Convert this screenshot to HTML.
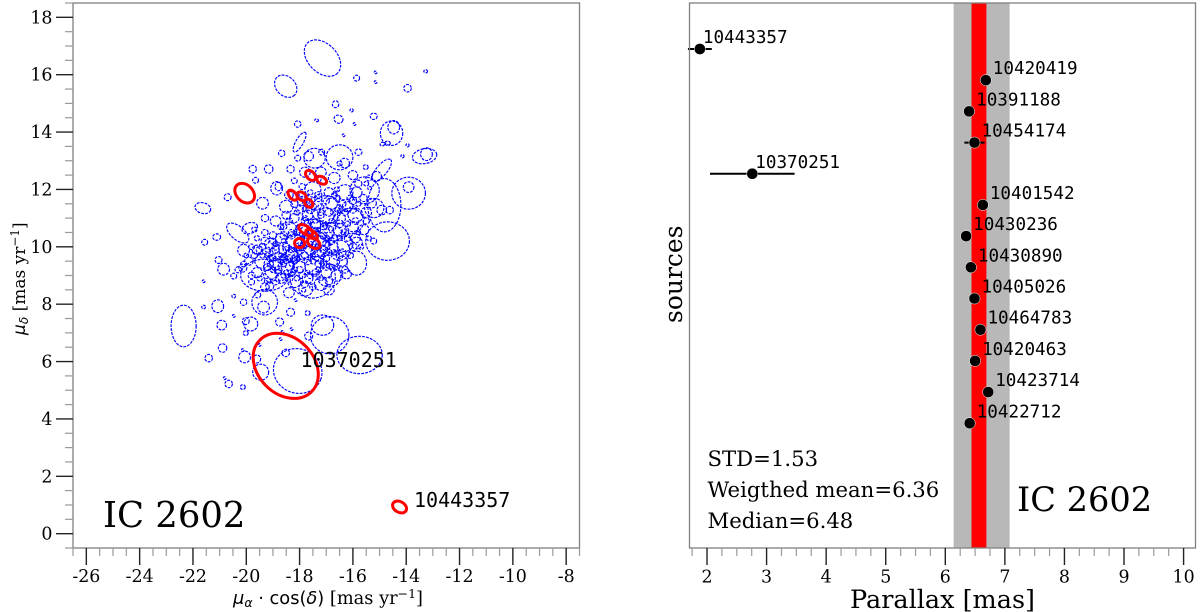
<!DOCTYPE html>
<html lang="en">
<head>
<meta charset="utf-8">
<title>IC 2602 proper motions and parallaxes</title>
<style>
html,body{margin:0;padding:0;background:#fff;width:1200px;height:612px;overflow:hidden}
svg{display:block}
.serif{font-family:"DejaVu Serif","Liberation Serif",serif;fill:#000}
.mono{font-family:"DejaVu Sans Mono","Liberation Mono",monospace;fill:#000}
.sans{font-family:"DejaVu Sans","Liberation Sans",sans-serif;fill:#000}
</style>
</head>
<body>
<svg id="chart" width="1200" height="612" viewBox="0 0 1200 612" xmlns="http://www.w3.org/2000/svg">
  <rect x="0" y="0" width="1200" height="612" fill="#ffffff"/>
  <g id="pm-panel"></g>
  <g id="plx-panel"></g>

  <text class="sans" x="233" y="604" font-size="17.8"><tspan font-style="italic">μ</tspan><tspan font-style="italic" font-size="12.5" dy="3">α</tspan><tspan dy="-3"> · cos(</tspan><tspan font-style="italic">δ</tspan><tspan>)</tspan><tspan class="serif" font-family="DejaVu Serif, Liberation Serif, serif">  [mas yr</tspan><tspan class="serif" font-family="DejaVu Serif, Liberation Serif, serif" font-size="12.5" dy="-6">−1</tspan><tspan class="serif" font-family="DejaVu Serif, Liberation Serif, serif" dy="6">]</tspan></text>
  <text class="sans" transform="translate(25,335) rotate(-90)" font-size="17"><tspan font-style="italic">μ</tspan><tspan font-style="italic" font-size="12" dy="3">δ</tspan><tspan class="serif" font-family="DejaVu Serif, Liberation Serif, serif" dy="-3">  [mas yr</tspan><tspan class="serif" font-family="DejaVu Serif, Liberation Serif, serif" font-size="12" dy="-6">−1</tspan><tspan class="serif" font-family="DejaVu Serif, Liberation Serif, serif" dy="6">]</tspan></text>
  <text class="serif" x="103" y="527" font-size="35.4">IC 2602</text>

  <text class="serif" x="850" y="608" font-size="25.5">Parallax [mas]</text>
  <text class="serif" transform="translate(682,323) rotate(-90)" font-size="25">sources</text>
  <text class="serif" x="707.5" y="466" font-size="21.2">STD=1.53</text>
  <text class="serif" x="707.5" y="497" font-size="21.2">Weigthed mean=6.36</text>
  <text class="serif" x="707.5" y="528" font-size="21.2">Median=6.48</text>
  <text class="serif" x="1017" y="511" font-size="33.6">IC 2602</text>
</svg>
<script>
// ---- proper-motion panel: isolated and large ellipses (mas/yr; tilt in degrees) ----
const memberRa = [
-17.14,-18.52,-15.86,-15.15,-15.15,-13.95,-13.27,-16.65,-16.05,-16.54,
-17.36,-15.94,-15.22,-18.07,-16.35,-18.0,-14.55,-14.47,-14.7,-14.9,
-13.95,-14.14,-13.31,-13.24,-18.67,-17.44,-17.66,-16.5,-16.31,-15.79,
-17.17,-18.07,-14.92,-15.11,-15.4,-13.91,-13.91,-15.52,-14.82,-15.2,
-19.76,-19.16,-18.34,-19.65,-18.86,-18.8,-20.7,-21.63,-19.39,-21.56,
-21.11,-20.32,-19.87,-20.1,-21.04,-20.85,-20.47,-20.13,-21.6,-19.31,
-17.51,-17.77,-17.85,-19.31,-19.35,-19.57,-19.12,-19.8,-20.47,-20.1,
-21.07,-21.6,-22.35,-20.92,-20.47,-19.83,-20.02,-20.02,-18.75,-18.34,
-18.15,-17.7,-18.64,-18.3,-18.71,-17.14,-16.87,-17.66,-15.75,-15.86,
-16.24,-16.5,-14.7,-15.22,-15.86,-20.89,-21.41,-20.06,-20.13,-19.46,
-19.61,-18.52,-18.07,-20.66,-20.81,-20.13,-19.5,-15.86,-15.3,-14.92,
-14.62,-15.37,-15.56
];
const memberDec = [
16.58,15.6,15.88,16.08,15.74,15.53,16.12,14.97,14.76,14.45,
14.41,14.28,14.55,14.28,13.89,13.65,13.96,14.17,13.61,13.58,
13.54,13.16,13.16,13.23,13.26,13.09,13.16,13.12,12.92,13.3,
13.3,13.09,12.67,12.46,12.4,11.87,12.08,12.78,11.45,11.35,
12.71,12.71,12.71,12.32,12.04,12.1,11.73,11.35,11.52,10.16,
10.34,10.48,10.65,9.88,9.54,9.22,8.98,9.26,8.8,9.01,
8.94,8.53,8.49,8.07,7.9,8.32,8.63,8.77,8.28,8.07,
7.93,7.9,7.24,7.27,7.59,7.31,7.41,6.99,7.38,7.72,
8.14,7.69,7.03,7.13,6.78,7.27,6.92,6.89,6.23,9.43,
9.05,9.88,10.2,10.2,10.13,6.47,6.12,6.16,6.4,5.63,
6.09,6.3,5.67,5.22,5.42,5.11,6.58,11.9,11.52,11.28,
11.28,12.04,11.97
];
const memberSemiA = [
.8,.47,.11,.05,.05,.14,.07,.12,.06,.17,
.07,.05,.13,.12,.05,.42,.42,.22,.1,.08,
.06,.06,.46,.22,.12,.4,.18,.5,.18,.13,
.11,.11,.52,.18,.11,.63,.2,.09,.62,.36,
.14,.16,.14,.11,.22,.12,.13,.3,.22,.11,
.15,.5,.3,.22,.13,.22,.11,.15,.05,.9,
.85,.26,.08,.48,.22,.11,.15,.11,.07,.12,
.22,.07,.47,.18,.05,.26,.13,.09,.15,.15,
.05,.09,.05,.05,.05,.42,.72,.15,.85,.37,
.18,.38,.82,.11,.22,.16,.14,.22,.05,.3,
.15,.14,.92,.14,.05,.09,.05,.2,.18,.18,
.14,.07,.55
];
const memberSemiB = [
.54,.36,.11,.05,.05,.14,.06,.13,.06,.15,
.05,.05,.12,.12,.05,.14,.46,.25,.08,.07,
.06,.06,.28,.24,.12,.37,.18,.47,.18,.12,
.11,.11,.2,.18,.11,.6,.2,.09,1.0,.36,
.14,.16,.14,.11,.25,.16,.13,.2,.22,.11,
.12,.25,.2,.22,.13,.22,.11,.15,.05,.6,
.78,.26,.08,.48,.22,.11,.15,.11,.07,.12,
.24,.07,.78,.18,.05,.26,.13,.09,.15,.15,
.05,.09,.05,.05,.05,.38,.7,.15,.7,.45,
.18,.38,.72,.11,.22,.16,.14,.22,.05,.3,
.15,.14,.83,.14,.05,.09,.05,.2,.18,.18,
.14,.07,.5
];
const memberTilt = [
-45,-45,0,0,0,0,0,0,0,-20,
-10,0,0,0,0,60,0,0,0,0,
0,0,10,0,0,0,0,0,0,0,
0,0,50,0,0,0,0,0,0,0,
0,0,0,0,0,0,0,-15,0,0,
0,-40,20,0,0,0,0,0,0,0,
0,0,0,0,0,0,0,0,0,0,
0,0,0,0,0,0,0,0,0,0,
0,0,0,0,0,0,0,0,0,0,
0,0,0,0,0,0,0,0,0,0,
0,0,-20,0,0,0,0,0,0,0,
0,0,0
];

// ---- proper-motion panel: dense core members (mas/yr) ----
const coreRa = [
-17.8,-17.2,-16.7,-16.0,-15.8,-17.5,-16.9,-16.3,-18.5,-17.9,
-17.4,-16.8,-16.2,-15.9,-15.5,-17.0,-16.5,-17.7,-18.2,-18.9,
-19.3,-18.4,-17.9,-17.4,-17.0,-16.5,-16.0,-15.6,-18.7,-18.2,
-17.7,-17.2,-16.8,-16.3,-15.9,-19.1,-19.6,-18.8,-18.3,-17.8,
-17.3,-16.8,-16.4,-19.4,-18.9,-18.5,-18.0,-17.5,-17.0,-16.6,
-19.9,-19.6,-19.1,-18.7,-18.2,-17.7,-17.2,-19.3,-18.4,-16.9,
-18.0,-17.6,-17.2,-16.7,-17.8,-17.4,-17.1,-16.8,-18.1,-17.6,
-16.3,-16.7,-18.5,-18.0,-17.5,-17.1,-19.0,-18.6,-18.2,-17.7,
-17.3,-19.2,-18.8,-18.3,-17.9,-19.0,-18.6,-17.3,-16.6,-16.0,
-15.6,-16.6,-17.9,-17.1,-18.2,-16.5,-15.5,-19.7,-19.3,-18.4,
-17.4,-18.8,-17.0,-16.1,-16.9,-18.3,-17.6,-18.6,-17.0,-17.9,
-18.1,-17.5,-16.9,-19.2,-18.7,-17.2,-16.4,-18.9,-17.4,-17.8,
-17.9,-17.6,-17.3,-17.0,-16.7,-16.4,-16.1,-15.8,-18.2,-18.5,
-17.8,-17.5,-17.2,-16.9,-16.6,-16.3,-16.0,-18.1,-18.4,-18.7,
-17.7,-17.4,-17.1,-16.8,-16.5,-16.2,-15.9,-18.0,-18.3,-18.6,
-19.0,-19.3,-19.6,-18.9,-18.6,-18.3,-18.0,-17.7,-17.4,-17.1,
-19.2,-19.5,-19.8,-18.8,-18.5,-18.2,-17.9,-17.6,-17.3,-17.0,
-19.1,-19.4,-19.7,-18.7,-18.4,-18.1,-17.8,-17.5,-17.2,-16.9,
-19.0,-18.8,-18.5,-18.2,-18.0,-17.7,-17.4,-17.1,-16.8,-16.5,
-16.2,-16.0,-15.7,-15.4,-15.5,-16.4,-16.7,-17.0,-17.3,-17.6,
-18.9,-19.2,-19.5,-19.8,-20.1,-20.0,-20.3,-18.4,-18.1,-17.8,
-17.5,-17.2,-16.9,-16.6,-16.3,-17.6,-17.9,-18.2,-17.3,-17.0,
-16.8,-16.5,-17.7,-17.4,-18.6,-18.9,-18.3,-19.1,-18.5,-18.0,
-17.5,-17.0,-16.6,-16.1,-15.8,-17.8,-17.2,-16.4,-19.4,-19.0
];
const coreDec = [
12.6,12.6,12.4,12.5,12.2,12.0,11.9,11.9,11.4,11.6,
11.5,11.5,11.4,11.1,11.2,11.1,11.0,11.1,11.0,10.9,
11.0,10.6,10.6,10.8,10.5,10.6,10.7,10.6,10.3,10.2,
10.2,10.2,10.0,10.1,10.3,10.1,9.9,9.8,9.7,9.8,
9.7,9.5,9.5,9.5,9.4,9.3,9.3,9.3,9.1,9.0,
9.5,9.1,9.0,8.9,8.8,8.9,8.7,8.6,8.4,8.5,
11.3,11.3,11.2,11.2,10.9,10.5,10.8,10.7,10.5,10.5,
10.5,10.3,10.0,10.0,10.0,9.9,9.6,9.6,9.5,9.5,
9.4,9.3,9.1,9.1,9.0,10.4,10.7,11.8,11.7,11.6,
11.7,12.0,12.1,12.3,12.3,12.9,12.2,10.6,10.5,11.8,
10.1,9.3,11.3,10.9,9.0,9.9,10.9,9.0,10.3,10.3,
9.6,9.8,10.4,9.7,9.7,9.5,10.4,10.1,10.6,11.0,
11.8,11.9,11.7,11.6,11.8,11.5,11.7,11.5,11.5,11.1,
11.3,11.4,11.4,11.2,11.3,11.2,11.3,11.2,10.9,10.7,
10.8,10.9,10.7,10.9,10.8,10.8,10.9,10.7,10.5,10.4,
10.2,10.2,10.3,10.0,10.2,10.4,10.4,10.4,10.3,10.4,
9.9,9.9,10.0,9.7,9.9,9.9,10.0,10.1,10.0,10.1,
9.6,9.7,9.7,9.5,9.6,9.7,9.7,9.7,9.8,9.8,
9.2,9.2,9.1,9.2,9.2,9.1,9.1,9.4,9.3,9.7,
10.3,10.0,10.0,10.3,10.9,9.8,9.8,9.6,9.2,9.0,
8.8,8.8,8.9,9.0,9.4,9.7,9.2,8.9,8.9,8.7,
8.6,8.9,8.8,9.3,9.2,10.7,10.0,9.6,10.6,10.7,
10.2,10.3,10.1,10.1,9.4,9.9,9.4,9.4,9.5,9.8,
9.5,9.3,9.8,9.7,10.5,11.5,11.1,11.3,10.0,9.2
];
const coreSemi = [
.2,.2,.22,.18,.14,.3,.18,.3,.25,.18,
.25,.22,.2,.28,.2,.3,.22,.2,.18,.2,
.14,.3,.25,.2,.3,.25,.2,.2,.2,.28,
.22,.2,.25,.3,.18,.22,.18,.3,.25,.3,
.22,.3,.2,.28,.22,.3,.22,.3,.2,.22,
.16,.2,.25,.2,.25,.2,.25,.16,.2,.2,
.14,.16,.12,.14,.14,.14,.12,.16,.12,.1,
.14,.12,.14,.16,.12,.14,.12,.14,.12,.14,
.12,.14,.12,.14,.12,.14,.12,.14,.12,.14,
.14,.1,.12,.11,.11,.1,.09,.1,.12,.16,
.5,.55,.55,.5,.45,.12,.1,.1,.12,.09,
.1,.09,.13,.1,.09,.11,.12,.1,.09,.1,
.12,.1,.14,.12,.1,.14,.12,.1,.14,.16,
.1,.13,.11,.15,.09,.12,.14,.1,.13,.11,
.14,.09,.12,.1,.15,.11,.13,.1,.12,.14,
.12,.15,.1,.13,.09,.14,.11,.12,.1,.13,
.1,.13,.11,.14,.12,.09,.15,.1,.12,.14,
.13,.1,.12,.09,.14,.11,.13,.1,.15,.12,
.11,.14,.1,.12,.13,.09,.14,.12,.1,.13,
.12,.15,.1,.09,.12,.14,.11,.13,.1,.12,
.14,.12,.1,.13,.11,.09,.12,.15,.1,.13,
.12,.09,.14,.11,.13,.08,.1,.12,.09,.11,
.13,.1,.08,.12,.11,.14,.09,.12,.1,.08,
.11,.13,.1,.12,.09,.1,.12,.11,.13,.1
];

// ---- proper-motion panel: highlighted sources ----
const highlightRa = [-20.06,-17.59,-17.17,-18.26,-17.92,-17.66,-17.77,-17.55,-17.47,-18.0,-18.52,-14.25];
const highlightDec = [11.87,12.49,12.32,11.8,11.76,11.52,10.58,10.44,10.13,10.13,5.85,0.93];
const highlightSemiA = [.42,.22,.2,.22,.2,.18,.3,.25,.26,.19,1.37,.28];
const highlightSemiB = [.31,.15,.13,.13,.14,.13,.15,.13,.17,.17,1.05,.2];
const highlightTilt = [-45,-45,-30,-50,-40,-45,-35,-35,-35,0,-45,-30];

const pmXTicks = [-26,-24,-22,-20,-18,-16,-14,-12,-10,-8];
const pmYTicks = [0,2,4,6,8,10,12,14,16,18];
const pmXLabels = ["-26","-24","-22","-20","-18","-16","-14","-12","-10","-8"];
const pmYLabels = ["0","2","4","6","8","10","12","14","16","18"];

// ---- parallax panel ----
const sourceNames = ["10443357","10420419","10391188","10454174","10370251","10401542","10430236","10430890","10405026","10464783","10420463","10423714","10422712"];
const sourceParallax = [1.88,6.68,6.40,6.49,2.76,6.63,6.35,6.43,6.49,6.59,6.50,6.72,6.41];
const sourceParallaxErr = [0.20,0.08,0.08,0.17,0.71,0.09,0.07,0.07,0.08,0.06,0.08,0.06,0.08];
const plxXTicks = [2,3,4,5,6,7,8,9,10];
const plxXLabels = ["2","3","4","5","6","7","8","9","10"];
const stdBandRange = [6.14,7.08];
const medianBandRange = [6.44,6.69];

const NS = 'http://www.w3.org/2000/svg';
const pmPanel = document.getElementById('pm-panel');
const plxPanel = document.getElementById('plx-panel');

const pmBox = {left:73, right:579.5, top:3, bottom:548};
const plxBox = {left:689.5, right:1195.5, top:3, bottom:548};
const pmXLim = [-26.5,-7.5], pmYLim = [-0.5,18.5], plxXLim = [1.706,10.2], plxRowLim = [-1.475,16];

function pmX(v){return pmBox.left + (v-pmXLim[0])/(pmXLim[1]-pmXLim[0])*(pmBox.right-pmBox.left);}
function pmY(v){return pmBox.bottom - (v-pmYLim[0])/(pmYLim[1]-pmYLim[0])*(pmBox.bottom-pmBox.top);}
function plxX(v){return plxBox.left + (v-plxXLim[0])/(plxXLim[1]-plxXLim[0])*(plxBox.right-plxBox.left);}
function plxRow(i){return plxBox.top + (i-plxRowLim[0])/(plxRowLim[1]-plxRowLim[0])*(plxBox.bottom-plxBox.top);}

function svgEl(tag, parent, attrs){
  const el = document.createElementNS(NS, tag);
  for (const k in attrs) el.setAttribute(k, attrs[k]);
  parent.appendChild(el);
  return el;
}
function drawEllipse(parent, ra, dec, a, b, tilt, stroke, width, dash){
  const xScale = (pmBox.right-pmBox.left)/(pmXLim[1]-pmXLim[0]);
  const cx = pmX(ra), cy = pmY(dec);
  const attrs = {cx:cx, cy:cy, rx:a*xScale, ry:b*xScale, fill:'none', stroke:stroke, 'stroke-width':width, transform:'rotate('+(-tilt)+' '+cx+' '+cy+')'};
  if (dash) attrs['stroke-dasharray'] = dash;
  return svgEl('ellipse', parent, attrs);
}

function drawFrame(parent, box){
  const frame = svgEl('rect', parent, {x:box.left, y:box.top, width:box.right-box.left, height:box.bottom-box.top, fill:'none', stroke:'#808080', 'stroke-width':1.3});
  
  
}
function tickLine(parent, x1, y1, x2, y2, major){
  const t = svgEl('line', parent, {x1:x1, y1:y1, x2:x2, y2:y2, stroke: major ? '#222222' : '#999999', 'stroke-width': major ? 1.4 : 1.2});
  
  
}

// proper-motion ellipses
const blueLayer = svgEl('g', pmPanel, {});


memberRa.forEach(function(ra, i){
  const m = drawEllipse(blueLayer, ra, memberDec[i], memberSemiA[i], memberSemiB[i], memberTilt[i], '#0000ff', 1.15, '2.8 1.2');
  
  
});
coreRa.forEach(function(ra, i){
  const c = drawEllipse(blueLayer, ra, coreDec[i], coreSemi[i], coreSemi[i]*0.95, 0, '#0000ff', 1.15, '2.8 1.2');
  
  
});
const redLayer = svgEl('g', pmPanel, {});


highlightRa.forEach(function(ra, i){
  const r = drawEllipse(redLayer, ra, highlightDec[i], highlightSemiA[i], highlightSemiB[i], highlightTilt[i], '#ff0000', 3, null);
  
  
});
const label1 = svgEl('text', pmPanel, {x:300.5, y:367, class:'mono', 'font-size':20});


label1.textContent = '10370251';
const label2 = svgEl('text', pmPanel, {x:414, y:507, class:'mono', 'font-size':20});


label2.textContent = '10443357';

drawFrame(pmPanel, pmBox);
// proper-motion minor ticks
for (let v = pmXLim[0]; v <= pmXLim[1]+1e-6; v += 0.5) {
  if (Math.abs(v/2-Math.round(v/2)) > 1e-6) tickLine(pmPanel, pmX(v), pmBox.bottom, pmX(v), pmBox.bottom+8, false);
}
for (let v = pmYLim[0]; v <= pmYLim[1]+1e-6; v += 0.5) {
  if (Math.abs(v/2-Math.round(v/2)) > 1e-6) tickLine(pmPanel, pmBox.left-8, pmY(v), pmBox.left, pmY(v), false);
}
pmXTicks.forEach(function(v, i){
  tickLine(pmPanel, pmX(v), pmBox.bottom, pmX(v), pmBox.bottom+17, true);
  const t = svgEl('text', pmPanel, {x:pmX(v), y:582, class:'serif', 'font-size':17.4, 'text-anchor':'middle'});
  
  
  t.textContent = pmXLabels[i];
});
pmYTicks.forEach(function(v, i){
  tickLine(pmPanel, pmBox.left-17, pmY(v), pmBox.left, pmY(v), true);
  const t = svgEl('text', pmPanel, {x:52.5, y:pmY(v)+6, class:'serif', 'font-size':17.4, 'text-anchor':'end'});
  
  
  t.textContent = pmYLabels[i];
});

// parallax panel bands
const grayBand = svgEl('rect', plxPanel, {x:plxX(stdBandRange[0]), y:plxBox.top, width:plxX(stdBandRange[1])-plxX(stdBandRange[0]), height:plxBox.bottom-plxBox.top, fill:'#b8b8b8'});


const redBand = svgEl('rect', plxPanel, {x:plxX(medianBandRange[0]), y:plxBox.top, width:plxX(medianBandRange[1])-plxX(medianBandRange[0]), height:plxBox.bottom-plxBox.top, fill:'#ff0000'});



// parallax points
sourceParallax.forEach(function(p, i){
  const y = plxRow(i);
  const bar = svgEl('line', plxPanel, {x1:plxX(p-sourceParallaxErr[i]), y1:y, x2:plxX(p+sourceParallaxErr[i]), y2:y, stroke:'#000000', 'stroke-width':2});
  
  
  const dot = svgEl('circle', plxPanel, {cx:plxX(p), cy:y, r:5.6, fill:'#000000', stroke:'#ffffff', 'stroke-width':0.5});
  
  
  const lab = svgEl('text', plxPanel, {x:plxX(p)+(p<3?3:7), y:y-6, class:'mono', 'font-size':17.6});
  
  
  lab.textContent = sourceNames[i];
});

drawFrame(plxPanel, plxBox);
for (let v = 1.75; v <= plxXLim[1]+1e-6; v += 0.25) {
  if (Math.abs(v-Math.round(v)) > 1e-6) tickLine(plxPanel, plxX(v), plxBox.bottom, plxX(v), plxBox.bottom+8, false);
}
plxXTicks.forEach(function(v, i){
  tickLine(plxPanel, plxX(v), plxBox.bottom, plxX(v), plxBox.bottom+17, true);
  const t = svgEl('text', plxPanel, {x:plxX(v), y:582.5, class:'serif', 'font-size':17.4, 'text-anchor':'middle'});
  
  
  t.textContent = plxXLabels[i];
});
</script>
</body>
</html>
